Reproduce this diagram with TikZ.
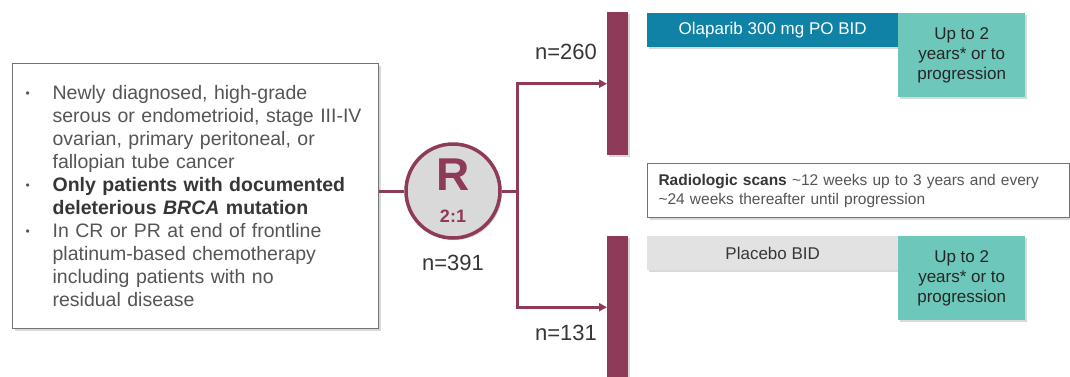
\documentclass[tikz,border=0pt]{standalone}
\usepackage{fontspec}
\setmainfont{Liberation Sans}
\usepackage{tikz}
\usetikzlibrary{arrows.meta,positioning,shadows}
\usepackage{xcolor}

\definecolor{maroon}{HTML}{8E3A59}
\definecolor{olablue}{HTML}{0F82A5}
\definecolor{durteal}{HTML}{6DC7BA}
\definecolor{placgray}{HTML}{E2E2E2}
\definecolor{circgray}{HTML}{D9D9D9}
\definecolor{txtgray}{HTML}{555555}
\definecolor{txtdark}{HTML}{363636}

\newcommand{\bul}{\makebox[27pt][l]{\fontsize{12}{12}\selectfont\raisebox{2pt}{\textbullet}}}
\newcommand{\ind}{\hspace*{27pt}}

\tikzset{
  soft/.style={drop shadow={shadow xshift=2pt, shadow yshift=-2pt, opacity=0.3}},
  eligbox/.style={draw=black!55, line width=1.2pt, fill=white, soft, anchor=north west,
    minimum width=366pt, minimum height=265pt, inner xsep=13pt, text width=340pt,
    align=left, text=txtgray, font=\fontsize{19.5}{23}\selectfont},
  randcirc/.style={circle, draw=maroon, line width=3.5pt, fill=circgray, soft, minimum size=94pt},
  bar/.style={fill=maroon, soft, anchor=north west, minimum width=21pt, inner sep=0pt},
  nlabel/.style={text=txtdark, font=\fontsize{22}{22}\selectfont},
  armbar/.style={anchor=north west, soft, minimum width=251pt, minimum height=34pt,
    inner sep=0pt, font=\fontsize{17}{17}\selectfont},
  durbox/.style={anchor=north west, fill=durteal, soft, minimum width=127pt, minimum height=84pt,
    inner sep=0pt, align=center, text=black!85, font=\fontsize{17}{20}\selectfont},
  scanbox/.style={anchor=north west, draw=black!55, line width=1pt, fill=white, soft,
    minimum width=422pt, minimum height=54pt, inner xsep=11pt, text width=400pt,
    align=left, text=txtgray, font=\fontsize{15.5}{19}\selectfont},
  link/.style={draw=maroon, line width=3pt},
  tip/.style={-{Triangle[length=8pt,width=8pt]}}
}

\begin{document}
\begin{tikzpicture}[x=1pt,y=-1pt]
    \useasboundingbox (0,0) rectangle (1070,376);
    % Nodes
    \node[eligbox] (elig) at (12,63) {%
      \bul Newly diagnosed, high-grade\\
      \ind serous or endometrioid, stage III-IV\\
      \ind ovarian, primary peritoneal, or\\
      \ind fallopian tube cancer\\
      \bul {\color{txtdark}\bfseries Only patients with documented}\\
      \ind {\color{txtdark}\bfseries deleterious \textit{BRCA} mutation}\\
      \bul In CR or PR at end of frontline\\
      \ind platinum-based chemotherapy\\
      \ind including patients with no\\
      \ind residual disease};
    \node[randcirc] (rand) at (453,191) {};
    \node[text=maroon, font=\fontsize{46}{46}\selectfont\bfseries] (rletter) at (453,175) {R};
    \node[text=maroon, font=\fontsize{18}{18}\selectfont\bfseries] (ratio) at (453,216) {2:1};
    \node[nlabel] (ntotal) at (453,263) {n=391};
    \coordinate (split) at (517,191);
    \node[bar, minimum height=143pt] (barA) at (607,12) {};
    \node[bar, minimum height=142pt] (barB) at (607,236) {};
    \node[nlabel] (nA) at (566,52) {n=260};
    \node[nlabel] (nB) at (566,333) {n=131};
    \node[armbar, fill=olablue, text=white] (olap) at (647,13) {Olaparib 300 mg PO BID};
    \node[durbox] (durA) at (898,13) {Up to 2\\years* or to\\progression};
    \node[scanbox] (scans) at (647,163) {{\color{txtdark}\bfseries Radiologic scans} \textasciitilde12 weeks up to 3 years and every\\
      \textasciitilde24 weeks thereafter until progression};
    \node[armbar, fill=placgray, text=txtdark] (plac) at (647,236) {Placebo BID};
    \node[durbox] (durB) at (898,236) {Up to 2\\years* or to\\progression};
    % Arrows
    \draw[link] (rand.west -| elig.east) -- (rand.west);
    \draw[link] (rand.east) -- (split);
    \draw[link,tip] (split) |- (barA.west);
    \draw[link,tip] (split) |- (barB.west);
\end{tikzpicture}
\end{document}
